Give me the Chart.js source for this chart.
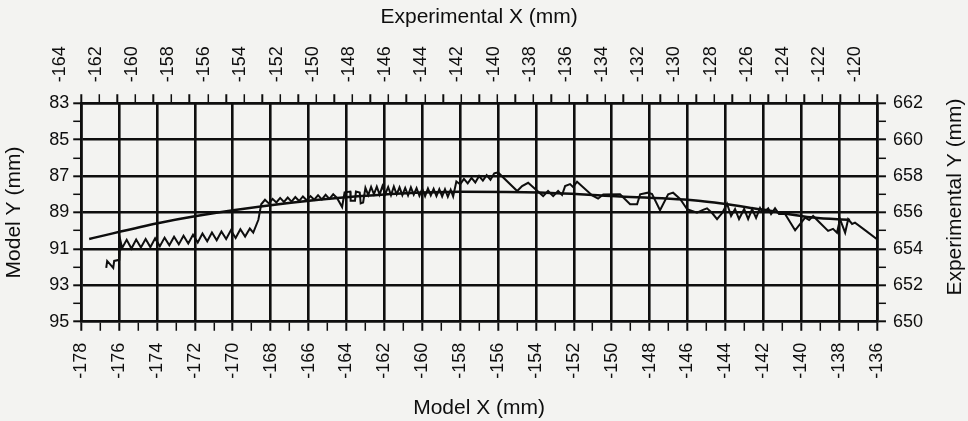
<!DOCTYPE html>
<html>
<head>
<meta charset="utf-8">
<script src="https://cdn.jsdelivr.net/npm/chart.js@4/dist/chart.umd.min.js"></script>
<style>
  html, body { margin: 0; padding: 0; background: #f3f3f1; }
  #wrap { width: 968px; height: 421px; }
</style>
</head>
<body>
<div id="wrap"><canvas id="chart" width="968" height="421"></canvas></div>
<script>
// measured profile (Model X / Model Y, mm)
var measuredX = [
  -176.68, -176.63, -176.31, -176.26, -175.99, -175.94, -175.84,
  -175.6, -175.35, -175.1, -174.85, -174.6, -174.35, -174.1, -173.85, -173.6, -173.35,
  -173.1, -172.85, -172.6, -172.35, -172.1, -171.85, -171.6, -171.35, -171.1, -170.85,
  -170.6, -170.35, -170.1, -169.85, -169.6, -169.35, -169.1, -168.92, -168.65, -168.5,
  -168.3, -168.1, -167.9, -167.7, -167.5, -167.3, -167.1, -166.9, -166.7, -166.5,
  -166.3, -166.1, -165.9, -165.7, -165.5, -165.3, -165.1, -164.9, -164.7, -164.5,
  -164.23, -164.1, -163.8, -163.78, -163.55, -163.5, -163.3, -163.25, -163.12,
  -163.0, -162.85, -162.7, -162.55, -162.4, -162.25, -162.1, -161.95, -161.8, -161.65,
  -161.5, -161.35, -161.2, -161.05, -160.9, -160.75, -160.6, -160.45, -160.3, -160.15,
  -160.0, -159.85, -159.7, -159.55, -159.4, -159.25, -159.1, -158.95, -158.8, -158.65,
  -158.5, -158.37, -158.2, -158.0, -157.8, -157.6, -157.4, -157.2, -157.0, -156.8,
  -156.6, -156.4, -156.2, -156.0,
  -154.99, -154.73, -154.41, -154.04, -153.62, -153.36, -153.09, -152.83, -152.62,
  -152.46, -152.2, -152.04, -151.83, -151.03, -150.72, -150.45, -149.56,
  -149.03, -148.66, -148.5, -148.08, -147.87, -147.45, -147.02, -146.76, -146.39,
  -146.02, -145.5, -145.18, -144.97, -144.7, -144.44, -144.17, -143.91, -143.7,
  -143.49, -143.28, -143.01, -142.8, -142.59, -142.38, -142.17,
  -142.01, -141.74, -141.59, -141.38, -141.17, -140.85, -140.32, -139.79, -139.58,
  -139.37, -139.0, -138.58, -138.32, -138.11, -137.95, -137.68, -137.52, -137.31,
  -137.16, -136.58, -136.0
];
var measuredY = [
  92.04, 91.66, 92.04, 91.66, 91.6, 90.51, 90.95,
  90.5, 90.98, 90.48, 90.92, 90.45, 90.9, 90.42, 90.85, 90.38, 90.8,
  90.33, 90.75, 90.28, 90.7, 90.22, 90.65, 90.16, 90.58, 90.1, 90.52,
  90.04, 90.46, 89.98, 90.4, 89.92, 90.32, 89.88, 90.1, 89.4, 88.55,
  88.3, 88.5, 88.25, 88.45, 88.2, 88.42, 88.18, 88.4, 88.15, 88.37,
  88.12, 88.33, 88.1, 88.3, 88.05, 88.28, 88.03, 88.25, 88.0, 88.2,
  88.7, 87.9, 87.85, 88.35, 88.35, 87.85, 87.9, 88.5, 88.45,
  87.65, 88.05, 87.6, 88.0, 87.58, 88.02, 87.55, 87.98, 87.6, 88.05,
  87.58, 88.0, 87.62, 88.05, 87.65, 88.06, 87.62, 88.02, 87.66, 88.08,
  87.7, 88.1, 87.68, 88.06, 87.7, 88.1, 87.72, 88.12, 87.72, 88.14,
  87.75, 88.12, 87.3, 87.45, 87.15, 87.4, 87.1, 87.35, 87.0, 87.25,
  86.95, 87.2, 86.85, 86.8,
  87.82, 87.55, 87.37, 87.71, 88.1, 87.82, 88.1, 87.82, 88.04,
  87.55, 87.44, 87.6, 87.31, 88.06, 88.24, 88.01, 88.0,
  88.55, 88.55, 88.0, 87.91, 87.99, 88.88, 88.0, 87.91, 88.26,
  88.82, 89.01, 88.86, 88.77, 89.03, 89.37, 89.03, 88.52, 89.19,
  88.81, 89.36, 88.81, 89.36, 88.81, 89.3, 88.75,
  89.03, 88.77, 89.08, 88.77, 89.08, 89.08, 89.98, 89.28, 89.41,
  89.19, 89.58, 90.01, 89.9, 90.11, 89.37, 90.11, 89.37, 89.63,
  89.56, 90.01, 90.47
];

// fitted curve
var fitX = [-177.58, -173.83, -169.98, -164.33, -158.0, -153.8, -149.56, -145.3, -142.17, -139.37, -137.42];
var fitY = [90.45, 89.56, 88.88, 88.19, 87.86, 87.9, 88.12, 88.37, 88.82, 89.28, 89.41];

var modelXRange = [-178, -136];
var expXRange = [-164, -120];
var modelYRange = [83, 95];
var expYRange = [650, 662];

var ink = '#0e0e0e';
var tickFont = { family: '"Liberation Sans", Arial, sans-serif', size: 18 };
var titleFont = { family: '"Liberation Sans", Arial, sans-serif', size: 21 };

function toPoints(xs, ys) {
  return xs.map(function (x, i) { return { x: x, y: ys[i] }; });
}

function isEven(v) { return Math.round(v) % 2 === 0; }

function axis(pos, range, labelEven, onArea, rotate, pad, tickLen) {
  return {
    type: 'linear',
    position: pos,
    min: range[0],
    max: range[1],
    reverse: false,
    ticks: {
      stepSize: 1,
      autoSkip: false,
      color: ink,
      font: tickFont,
      padding: pad,
      minRotation: rotate ? 90 : 0,
      maxRotation: rotate ? 90 : 0,
      callback: function (v) { return isEven(v) === labelEven ? String(Math.round(v)) : ''; }
    },
    grid: {
      drawOnChartArea: onArea,
      color: function (c) {
        if (!c.tick) return 'rgba(0,0,0,0)';
        return isEven(c.tick.value) === labelEven ? ink : 'rgba(0,0,0,0)';
      },
      lineWidth: 2.6,
      tickColor: ink,
      tickLength: tickLen,
      tickWidth: function (c) { return c.tick && isEven(c.tick.value) === labelEven ? 2 : 1.5; }
    },
    border: { color: ink, width: 2.6 }
  };
}

var xBottom = axis('bottom', modelXRange, true, true, true, 12, 9);
xBottom.title = { display: true, text: 'Model X (mm)', color: ink, font: titleFont, padding: { top: 5, bottom: 0 } };

var xTop = axis('top', expXRange, true, false, true, 12, 9);
xTop.title = { display: true, text: 'Experimental X (mm)', color: ink, font: titleFont, padding: { top: 0, bottom: 4 } };

var yLeft = axis('left', modelYRange, false, true, false, 4, 8);
yLeft.reverse = true;
yLeft.title = { display: true, text: 'Model Y (mm)', color: ink, font: titleFont, padding: { top: 0, bottom: 18 } };

var yRight = axis('right', expYRange, true, false, false, 7, 9);

var rightTitle = {
  id: 'rightTitle',
  afterDraw: function (chart) {
    var ctx = chart.ctx;
    ctx.save();
    ctx.translate(chart.width - 13, 197);
    ctx.rotate(-Math.PI / 2);
    ctx.font = '21px "Liberation Sans", Arial, sans-serif';
    ctx.fillStyle = ink;
    ctx.textAlign = 'center';
    ctx.textBaseline = 'middle';
    ctx.fillText('Experimental Y (mm)', 0, 0);
    ctx.restore();
  }
};

new Chart(document.getElementById('chart'), {
  type: 'line',
  data: {
    datasets: [{
      label: 'Measured',
      data: toPoints(measuredX, measuredY),
      borderColor: ink,
      borderWidth: 2,
      pointRadius: 0,
      tension: 0,
      xAxisID: 'x',
      yAxisID: 'y'
    }, {
      label: 'Fit',
      data: toPoints(fitX, fitY),
      borderColor: ink,
      borderWidth: 2.5,
      pointRadius: 0,
      tension: 0.4,
      cubicInterpolationMode: 'monotone',
      xAxisID: 'x',
      yAxisID: 'y'
    }]
  },
  options: {
    responsive: false,
    animation: false,
    layout: { padding: { left: 2, right: 38, top: 5, bottom: 0 } },
    plugins: { legend: { display: false }, tooltip: { enabled: false } },
    scales: { x: xBottom, x2: xTop, y: yLeft, y2: yRight }
  },
  plugins: [rightTitle]
});
</script>
</body>
</html>
